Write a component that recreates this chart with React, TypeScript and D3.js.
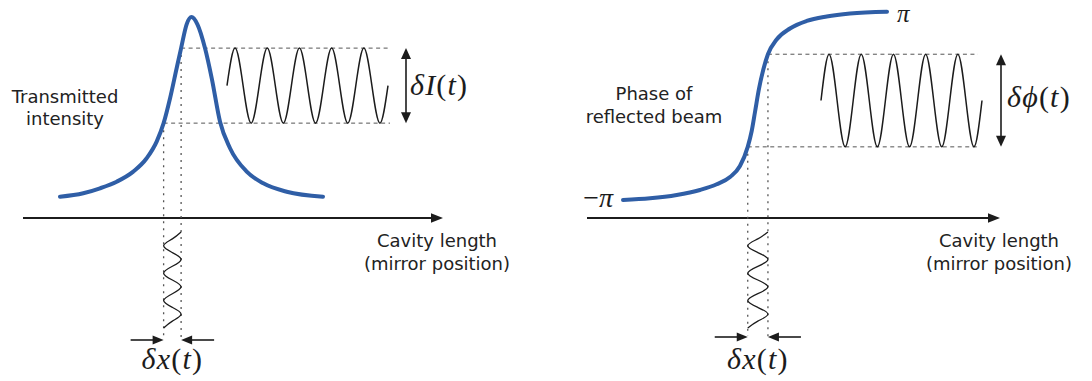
import React from "react";
import * as d3 from "d3";

const W = 1092;
const H = 381;

// Cavity transmission: detuning (arb. units) vs intensity normalised to the peak
const transDetuning = [-10, -8.23, -6.96, -5.69, -4.43, -3.41, -2.65, -2.12, -1.63, -1.13, -0.79, -0.37, 0, 0.45, 1.03, 1.54, 2.17, 2.93, 4.2, 5.46, 7.24, 10];
const transIntensity = [0.018, 0.037, 0.064, 0.1, 0.155, 0.228, 0.319, 0.42, 0.556, 0.72, 0.83, 0.96, 1, 0.96, 0.829, 0.665, 0.428, 0.283, 0.155, 0.091, 0.045, 0.018];

// Reflected-beam phase (in units of pi) vs detuning
const phaseDetuning = [-10, -7.95, -5.93, -4.17, -2.9, -1.89, -1.14, -0.55, -0.25, 0, 0.3, 0.63, 0.98, 1.64, 2.65, 3.92, 5.43, 7.2, 10];
const phaseValue = [-0.989, -0.972, -0.937, -0.884, -0.824, -0.747, -0.632, -0.43, -0.263, -0.063, 0.179, 0.384, 0.545, 0.7, 0.816, 0.895, 0.942, 0.974, 0.993];

// Mirror excursion: detuning limits swept by the mirror
const transSweep = [-2.12, -0.79];
const phaseSweep = [-0.55, 0.98];
// Resulting output swings
const intensitySwing = [0.42, 0.83];
const phaseSwing = [-0.43, 0.545];

// Modulation samples, one per quarter cycle (5 cycles of output, 3.5 cycles of mirror motion)
const outputModulation = [0, 1, 0, -1, 0, 1, 0, -1, 0, 1, 0, -1, 0, 1, 0, -1, 0, 1, 0, -1, 0];
const mirrorModulation = [1, 0, -1, 0, 1, 0, -1, 0, 1, 0, -1, 0, 1, 0, -1];

const BLUE = "#2f5ea6";
const INK = "#1c1c1c";
const GUIDE = "#555";
const SANS = "'DejaVu Sans', Verdana, sans-serif";
const SERIF = "'Liberation Serif', 'Times New Roman', serif";

type Pt = [number, number];

function head(tipX: number, tipY: number, dx: number, dy: number, len: number, half: number) {
  const bx = tipX - dx * len;
  const by = tipY - dy * len;
  const px = -dy * half;
  const py = dx * half;
  return `${tipX},${tipY} ${bx + px},${by + py} ${bx - px},${by - py}`;
}

function Panel(props: {
  detuning: number[];
  values: number[];
  x: d3.ScaleLinear<number, number>;
  y: d3.ScaleLinear<number, number>;
  sweep: number[];
  swing: number[];
  waveStart: number;
  waveEnd: number;
  guideEnd: number;
  arrowX: number;
  axisStart: number;
  axisEnd: number;
  bottomArrowY: number;
  deltaLabel: React.ReactNode;
}) {
  const { detuning, values, x, y, sweep, swing, waveStart, waveEnd, guideEnd, arrowX, axisStart, axisEnd, bottomArrowY } = props;
  const axisY = 218;

  const curvePts: Pt[] = detuning.map((d, i) => [d, values[i]]);
  const curve = d3
    .line<Pt>()
    .curve(d3.curveMonotoneX)
    .x((d) => x(d[0]))
    .y((d) => y(d[1]));

  // output modulation versus time
  const t = d3.scaleLinear().domain([0, 5]).range([waveStart, waveEnd]);
  const mid = (swing[0] + swing[1]) / 2;
  const amp = (swing[1] - swing[0]) / 2;
  const wave = d3
    .line<number>()
    .curve(d3.curveNatural)
    .x((_, i) => t(i / 4))
    .y((v) => y(mid + amp * v));

  // mirror motion versus time (time runs downwards)
  const tm = d3.scaleLinear().domain([0, 3.5]).range([232, 328]);
  const xmid = (sweep[0] + sweep[1]) / 2;
  const xamp = (sweep[1] - sweep[0]) / 2;
  const mirror = d3
    .line<number>()
    .curve(d3.curveNatural)
    .x((v) => x(xmid + xamp * v))
    .y((_, i) => tm(i / 4));

  const xa = x(sweep[0]);
  const xb = x(sweep[1]);
  const ylo = y(swing[0]);
  const yhi = y(swing[1]);

  return (
    <g>
      {/* axis */}
      <line x1={axisStart} x2={axisEnd - 8} y1={axisY} y2={axisY} stroke={INK} strokeWidth={1.8} />
      <polygon points={head(axisEnd, axisY, 1, 0, 12, 4.8)} fill={INK} />

      {/* guide lines */}
      <line x1={xb} x2={guideEnd} y1={yhi} y2={yhi} stroke={GUIDE} strokeWidth={1} strokeDasharray="4 3.5" />
      <line x1={xa} x2={guideEnd} y1={ylo} y2={ylo} stroke={GUIDE} strokeWidth={1} strokeDasharray="4 3.5" />
      <line x1={xa} x2={xa} y1={ylo} y2={336} stroke={GUIDE} strokeWidth={1.3} strokeDasharray="2 5" />
      <line x1={xb} x2={xb} y1={yhi} y2={338} stroke={GUIDE} strokeWidth={1.3} strokeDasharray="2 5" />

      {/* response curve */}
      <path d={curve(curvePts) ?? ""} fill="none" stroke={BLUE} strokeWidth={4} strokeLinecap="round" />

      {/* output modulation */}
      <path d={wave(outputModulation) ?? ""} fill="none" stroke={INK} strokeWidth={1.5} />

      {/* swing arrow */}
      <line x1={arrowX} x2={arrowX} y1={yhi + 8} y2={ylo - 8} stroke={INK} strokeWidth={1.6} />
      <polygon points={head(arrowX, yhi, 0, -1, 11, 5)} fill={INK} />
      <polygon points={head(arrowX, ylo, 0, 1, 11, 5)} fill={INK} />
      {props.deltaLabel}

      {/* mirror motion */}
      <path d={mirror(mirrorModulation) ?? ""} fill="none" stroke={INK} strokeWidth={1.3} />

      {/* excursion arrows */}
      <line x1={xa - 33} x2={xa - 8} y1={bottomArrowY} y2={bottomArrowY} stroke={INK} strokeWidth={1.6} />
      <polygon points={head(xa, bottomArrowY, 1, 0, 11, 4.5)} fill={INK} />
      <line x1={xb + 33} x2={xb + 8} y1={bottomArrowY} y2={bottomArrowY} stroke={INK} strokeWidth={1.6} />
      <polygon points={head(xb, bottomArrowY, -1, 0, 11, 4.5)} fill={INK} />
      <text x={(xa + xb) / 2} y={369} textAnchor="middle" fontFamily={SERIF} fontSize={30} fill={INK} letterSpacing={1.2}>
        <tspan fontStyle="italic">δx</tspan>
        <tspan>(</tspan>
        <tspan fontStyle="italic">t</tspan>
        <tspan>)</tspan>
      </text>
    </g>
  );
}

export default function App() {
  const xL = d3.scaleLinear().domain([-10, 10]).range([60, 323]);
  const yL = d3.scaleLinear().domain([0, 1]).range([200, 17]);
  const xR = d3.scaleLinear().domain([-10, 10]).range([623, 887]);
  const yR = d3.scaleLinear().domain([-1, 1]).range([201, 11]);

  const textStyle = { fontFamily: SANS, fontSize: 18, fill: "#222" } as const;

  return (
    <svg width={W} height={H} viewBox={`0 0 ${W} ${H}`} style={{ position: "absolute", left: 0, top: 0, background: "#fff" }}>
      <rect width={W} height={H} fill="#fff" />

      <Panel
        detuning={transDetuning}
        values={transIntensity}
        x={xL}
        y={yL}
        sweep={transSweep}
        swing={intensitySwing}
        waveStart={227}
        waveEnd={388}
        guideEnd={390}
        arrowX={406}
        axisStart={23}
        axisEnd={443}
        bottomArrowY={340}
        deltaLabel={
          <text x={410} y={95} fontFamily={SERIF} fontSize={30} fill={INK} letterSpacing={1.2}>
            <tspan fontStyle="italic">δI</tspan>
            <tspan>(</tspan>
            <tspan fontStyle="italic">t</tspan>
            <tspan>)</tspan>
          </text>
        }
      />

      <Panel
        detuning={phaseDetuning}
        values={phaseValue}
        x={xR}
        y={yR}
        sweep={phaseSweep}
        swing={phaseSwing}
        waveStart={821}
        waveEnd={982}
        guideEnd={978}
        arrowX={1001}
        axisStart={587}
        axisEnd={1000}
        bottomArrowY={337}
        deltaLabel={
          <text x={1007} y={107} fontFamily={SERIF} fontSize={30} fill={INK} letterSpacing={1.2}>
            <tspan fontStyle="italic">δϕ</tspan>
            <tspan>(</tspan>
            <tspan fontStyle="italic">t</tspan>
            <tspan>)</tspan>
          </text>
        }
      />

      {/* curve captions */}
      <text {...textStyle} textAnchor="middle">
        <tspan x={65} y={103}>Transmitted</tspan>
        <tspan x={65} y={125}>intensity</tspan>
      </text>
      <text {...textStyle} textAnchor="middle">
        <tspan x={654} y={100}>Phase of</tspan>
        <tspan x={654} y={123}>reflected beam</tspan>
      </text>

      {/* axis captions */}
      <text {...textStyle} textAnchor="middle">
        <tspan x={437} y={247}>Cavity length</tspan>
        <tspan x={437} y={270}>(mirror position)</tspan>
      </text>
      <text {...textStyle} textAnchor="middle">
        <tspan x={999} y={247}>Cavity length</tspan>
        <tspan x={999} y={270}>(mirror position)</tspan>
      </text>

      {/* phase limits */}
      <text x={897} y={22} fontFamily={SERIF} fontSize={25} fontStyle="italic" fill={INK}>π</text>
      <text x={613} y={207} textAnchor="end" fontFamily={SERIF} fontSize={28} fill={INK}>
        <tspan>−</tspan>
        <tspan fontStyle="italic">π</tspan>
      </text>
    </svg>
  );
}
